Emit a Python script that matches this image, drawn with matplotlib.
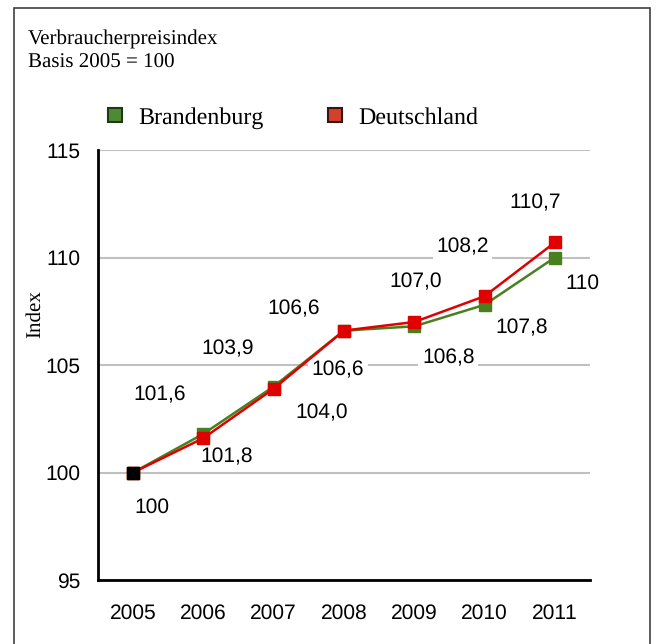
import matplotlib.pyplot as plt
from matplotlib.lines import Line2D
from matplotlib.patches import Rectangle

plt.rcParams['text.hinting'] = 'no_hinting'
plt.rcParams['text.hinting_factor'] = 1

years = ['2005', '2006', '2007', '2008', '2009', '2010', '2011']
brandenburg = [100, 101.8, 104.0, 106.6, 106.8, 107.8, 110]
deutschland = [100, 101.6, 103.9, 106.6, 107.0, 108.2, 110.7]
bb_labels = ['100', '101,8', '104,0', '106,6', '106,8', '107,8', '110']
de_labels = ['', '101,6', '103,9', '106,6', '107,0', '108,2', '110,7']

# label offsets in pixels
bb_off = [(19, -35), (23, -23), (48, -26), (-6, -39), (34, -32), (37, -23), (28, -26)]
de_off = [None, (-44, 43), (-46, 40), (-50, 22), (1, 40), (-22, 49), (-20, 40)]

GREEN = '#4a7f1e'
RED = '#e00000'
sans = ['Liberation Sans', 'DejaVu Sans']
serif = ['Liberation Serif', 'DejaVu Serif']

fig = plt.figure(figsize=(6.57, 6.44), dpi=100)
ax = fig.add_axes([98 / 657, 1 - 580 / 644, 492 / 657, 430 / 644])

x = list(range(len(years)))
ax.plot(x, brandenburg, color=GREEN, lw=1.8, marker='s', ms=8.5, mec=GREEN, mfc=GREEN, zorder=3)
ax.plot(x, deutschland, color=RED, lw=1.8, marker='s', ms=8.5, mec=RED, mfc=RED, zorder=4)
ax.plot([0], [deutschland[0]], marker='s', ms=8.5, color='black', ls='none', zorder=5)

box = dict(facecolor='white', edgecolor='none', pad=2.5)
for i, (v, lab) in enumerate(zip(brandenburg, bb_labels)):
    ax.annotate(lab, (i, v), xytext=bb_off[i], textcoords='offset pixels',
                ha='center', va='center', fontsize=15, family=sans, bbox=box, zorder=2)
for i, (v, lab) in enumerate(zip(deutschland, de_labels)):
    if not lab:
        continue
    ax.annotate(lab, (i, v), xytext=de_off[i], textcoords='offset pixels',
                ha='center', va='center', fontsize=15, family=sans, bbox=box, zorder=2)

ax.set_xlim(-0.5, 6.5)
ax.set_ylim(95, 115)
ax.set_yticks([95, 100, 105, 110, 115])
ax.set_xticks(x)
ax.set_xticklabels(years)
ax.yaxis.grid(True, color='#c0c0c0', lw=1.5, zorder=0)
ax.set_axisbelow(True)
ax.tick_params(axis='x', length=0, labelsize=15, pad=17)
ax.tick_params(axis='y', length=0, labelsize=15, pad=13)
for lbl in ax.get_xticklabels() + ax.get_yticklabels():
    lbl.set_family(sans)
for s in ['top', 'right']:
    ax.spines[s].set_visible(False)
for s in ['left', 'bottom']:
    ax.spines[s].set_linewidth(2)

fig.text(35 / 657, 1 - 314 / 644, 'Index', family=serif, fontsize=15,
         rotation=90, ha='center', va='center')

fig.text(28 / 657, 1 - 51 / 644, 'Verbraucherpreisindex\nBasis 2005 = 100',
         family=serif, fontsize=15, va='center', ha='left', linespacing=1.25)

handles = [Line2D([], [], ls='none', marker='s', ms=10, mfc='#4e8a34', mec='#1e3a14', mew=1.5),
           Line2D([], [], ls='none', marker='s', ms=10, mfc='#d2402e', mec='#3a1410', mew=1.5)]
fig.legend(handles, ['Brandenburg', 'Deutschland'], loc='center left',
           bbox_to_anchor=(103 / 657, 1 - 118 / 644), ncol=2, frameon=False,
           prop={'family': serif, 'size': 17}, columnspacing=2.5, handlelength=1.0,
           handletextpad=0.5, borderpad=0, borderaxespad=0)

fig.patches.append(Rectangle((14 / 657, -0.05), 636 / 657, 1.05 - 8 / 644,
                             transform=fig.transFigure, fill=False, ec='#404040', lw=1.2))

fig.savefig('out.png', dpi=100)
